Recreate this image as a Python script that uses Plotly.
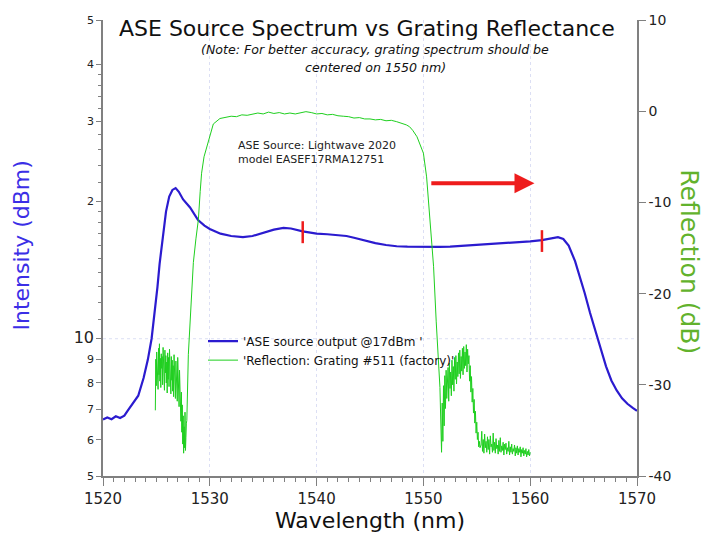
import math
import numpy as np
import plotly.graph_objects as go

# ---------------- data ----------------
ase_wl = [1520.0, 1520.4, 1520.8, 1521.2, 1521.6, 1522.0, 1522.3, 1522.8, 1523.3, 1523.8,
          1524.2, 1524.55, 1524.8, 1525.1, 1525.3, 1525.6, 1525.9, 1526.2, 1526.5, 1526.8,
          1527.1, 1527.5, 1528.15, 1528.9, 1529.5, 1530.0, 1531.0, 1532.0, 1533.1, 1534.0,
          1535.0, 1536.0, 1536.9, 1537.6, 1538.7, 1540.0, 1541.0, 1542.0, 1542.8, 1543.5,
          1544.5, 1545.5, 1546.5, 1547.5, 1548.5, 1549.5, 1550.6, 1551.5, 1552.5, 1553.5,
          1554.5, 1555.5, 1556.9, 1558.0, 1559.0, 1560.0, 1561.1, 1562.0, 1562.6, 1563.1,
          1563.6, 1564.2, 1564.6, 1565.1, 1565.6, 1566.1, 1566.6, 1567.1, 1567.6, 1568.1,
          1568.6, 1569.1, 1569.6, 1570.0]
ase_val = [6.65, 6.72, 6.66, 6.76, 6.70, 6.78, 6.95, 7.2, 7.5, 8.2,
           9.0, 10.0, 11.2, 13.0, 14.6, 16.9, 19.0, 20.5, 21.2, 21.4,
           21.0, 20.2, 19.4, 18.2, 17.7, 17.4, 17.0, 16.8, 16.7, 16.8,
           17.05, 17.35, 17.5, 17.45, 17.2, 17.0, 16.95, 16.85, 16.8, 16.65,
           16.4, 16.2, 16.05, 15.95, 15.92, 15.9, 15.88, 15.9, 15.92, 15.97,
           16.02, 16.08, 16.15, 16.22, 16.28, 16.35, 16.45, 16.6, 16.7, 16.55,
           16.0, 14.8, 13.8, 12.6, 11.4, 10.4, 9.5, 8.7, 8.1, 7.7,
           7.4, 7.2, 7.05, 6.95]

# grating reflection: left side-lobe (sampled uniformly between start and end)
refl_lobe1_start, refl_lobe1_end = 1524.9, 1527.85
refl_lobe1 = [-32.8, -27.2, -30.1, -26.4, -29.0, -27.8, -30.5, -26.0, -28.9, -25.5,
              -29.6, -27.1, -30.3, -26.6, -28.2, -26.9, -30.0, -25.9, -29.1, -27.4,
              -30.6, -26.2, -28.7, -26.8, -29.8, -27.5, -30.9, -26.5, -29.4, -27.0,
              -30.2, -26.1, -28.6, -27.7, -31.0, -26.9, -29.5, -27.3, -30.7, -27.9,
              -31.3, -26.7, -29.9, -28.1, -31.5, -27.4, -30.4, -28.6, -31.8, -27.0,
              -30.8, -29.2, -32.4, -28.4, -31.9, -30.5, -34.0, -30.8, -35.2, -32.2,
              -36.5, -33.4, -37.5, -34.6, -36.9, -33.0, -37.2, -35.8, -34.2, -33.9]
# main reflection band
refl_main_wl = [1527.99, 1528.15, 1528.3, 1528.46, 1528.7, 1528.93, 1529.1, 1529.23, 1529.46, 1529.86,
                1530.33, 1530.95, 1531.5, 1532.0, 1532.5, 1533.0, 1533.5, 1534.0, 1534.5, 1535.0,
                1535.5, 1536.0, 1536.5, 1537.0, 1537.5, 1538.0, 1538.5, 1539.0, 1539.5, 1540.0,
                1540.5, 1541.0, 1541.5, 1542.0, 1542.5, 1543.0, 1543.5, 1544.0, 1544.5, 1545.0,
                1545.5, 1546.0, 1546.5, 1547.0, 1547.5, 1548.0, 1548.4, 1548.7, 1549.0, 1549.4,
                1549.7, 1550.0, 1550.3, 1550.46, 1550.6, 1550.8, 1550.95, 1551.2, 1551.55]
refl_main = [-26.7, -23.1, -19.5, -16.6, -14.0, -11.9, -8.8, -6.8, -5.0, -3.3,
             -1.4, -0.8, -0.7, -0.55, -0.6, -0.4, -0.45, -0.3, -0.2, -0.3,
             -0.1, -0.25, -0.15, -0.3, -0.2, -0.3, -0.15, -0.05, -0.15, -0.3,
             -0.25, -0.4, -0.35, -0.5, -0.55, -0.6, -0.75, -0.7, -0.85, -0.85,
             -0.95, -0.9, -1.05, -1.0, -1.15, -1.3, -1.5, -1.7, -2.1, -2.8,
             -3.6, -4.6, -7.2, -9.7, -11.0, -14.0, -17.0, -23.1, -30.3]
# right side-lobe
refl_lobe2_start, refl_lobe2_end = 1551.7, 1555.3
refl_lobe2 = [-37.4, -32.0, -36.2, -30.1, -34.5, -29.0, -32.6, -28.4, -31.5, -29.6,
              -28.1, -31.8, -27.6, -30.4, -28.6, -31.2, -27.3, -30.0, -28.0, -30.7,
              -27.0, -29.4, -26.8, -29.9, -27.5, -29.1, -26.5, -28.8, -26.2, -29.3,
              -26.9, -28.5, -26.0, -28.9, -25.8, -28.2, -26.4, -27.9, -25.6, -28.6,
              -26.1, -27.7, -26.8, -29.6, -27.9, -30.8, -29.1, -31.9, -30.4, -33.1,
              -31.6, -34.2, -32.9, -35.3, -34.1, -36.0, -35.2, -36.8, -36.2, -36.9]
# noise floor tail
refl_tail_start, refl_tail_end = 1555.4, 1560.0
refl_tail = [-36.6, -35.1, -37.3, -36.0, -37.5, -35.4, -36.9, -36.2, -37.4, -35.7,
             -37.1, -36.0, -37.6, -35.6, -36.8, -36.5, -37.4, -35.3, -37.2, -36.3,
             -37.5, -35.9, -37.0, -36.6, -37.6, -36.1, -37.3, -35.8, -37.4, -36.7,
             -37.2, -36.3, -37.7, -36.5, -37.1, -36.4, -37.6, -36.9, -37.3, -36.2,
             -37.7, -36.8, -37.4, -36.5, -37.6, -37.0, -37.3, -36.6, -37.8, -36.9,
             -37.5, -36.7, -37.7, -37.0, -37.4, -36.8, -37.9, -37.1, -37.5, -36.9,
             -37.8, -37.2, -37.6, -37.0, -37.9, -37.3, -37.7, -37.1, -37.8, -37.4]

# bandwidth marks on the ASE curve
mark_wl = [1538.7, 1561.1]
mark_lo = [16.2, 15.5]
mark_hi = [18.1, 17.3]

# arrow (in wavelength / reflection units)
arrow_from, arrow_to, arrow_level = 1550.6, 1560.4, -7.9

x_major = [1520, 1530, 1540, 1550, 1560, 1570]
y_major = [5, 6, 7, 8, 9, 10, 20, 30, 40, 50]
y_major_text = ["5", "6", "7", "8", "9", "<span style='font-size:16px'>10</span>", "2", "3", "4", "5"]
y_minor = [11, 12, 13, 14, 15, 16, 17, 18, 19, 22, 24, 26, 28, 32, 34, 36, 38]
y2_major = [-40, -30, -20, -10, 0, 10]
y2_text = ["-40", "-30", "-20", "-10", "0", "10"]

# ---------------- build ----------------
refl_wl = (list(np.linspace(refl_lobe1_start, refl_lobe1_end, len(refl_lobe1))) + refl_main_wl
           + list(np.linspace(refl_lobe2_start, refl_lobe2_end, len(refl_lobe2)))
           + list(np.linspace(refl_tail_start, refl_tail_end, len(refl_tail))))
refl_val = refl_lobe1 + refl_main + refl_lobe2 + refl_tail

BLUE = "#2b1bcf"
GREEN = "#1fcf1f"
AXIS = "#808080"
GRID = "#dcdff4"
FONT = "DejaVu Sans"

fig = go.Figure()
fig.add_trace(go.Scatter(x=ase_wl, y=ase_val, mode="lines", name="'ASE source output @17dBm '",
                         line=dict(color=BLUE, width=2.2), yaxis="y", hoverinfo="skip"))
fig.add_trace(go.Scatter(x=refl_wl, y=refl_val, mode="lines", name="'Reflection: Grating #511 (factory)'",
                         line=dict(color=GREEN, width=1), yaxis="y2", hoverinfo="skip"))
for w, lo, hi in zip(mark_wl, mark_lo, mark_hi):
    fig.add_trace(go.Scatter(x=[w, w], y=[lo, hi], mode="lines", showlegend=False,
                             line=dict(color="#ee1c1c", width=2.5), yaxis="y", hoverinfo="skip"))

W, H = 708, 542
L, R, T, B = 103, 71, 15, 66
pw, ph = W - L - R, H - T - B


def px(xp):
    return (xp - L) / pw


def py(yp):
    return (H - B - yp) / ph


fig.update_layout(
    width=W, height=H,
    margin=dict(l=L, r=R, t=T, b=B, pad=0),
    paper_bgcolor="white", plot_bgcolor="white",
    font=dict(family=FONT, color="#222", size=12),
    hovermode=False,
    showlegend=True,
    legend=dict(x=px(203), y=py(325), xanchor="left", yanchor="top",
                bgcolor="rgba(0,0,0,0)", font=dict(size=12, color="#111"),
                itemwidth=30, tracegroupgap=0),
    xaxis=dict(range=[1520, 1570], tickmode="array", tickvals=x_major,
               ticks="outside", ticklen=8, tickcolor=AXIS, tickwidth=1,
               showline=True, linecolor=AXIS, linewidth=1.5,
               showgrid=True, gridcolor=GRID, griddash="dot", gridwidth=1,
               zeroline=False, tickfont=dict(size=15, color="#222"),
               minor=dict(dtick=1, ticks="outside", ticklen=4, tickcolor=AXIS, showgrid=False)),
    yaxis=dict(type="log", range=[math.log10(5), math.log10(50)], tickmode="array",
               tickvals=y_major, ticktext=y_major_text,
               ticks="outside", ticklen=5, tickcolor=AXIS,
               showline=True, linecolor=AXIS, linewidth=1.5, showgrid=False, zeroline=False,
               tickfont=dict(size=11, color="#222"),
               minor=dict(tickmode="array", tickvals=y_minor, ticks="outside", ticklen=3,
                          tickcolor=AXIS, showgrid=False)),
    yaxis2=dict(overlaying="y", side="right", range=[-40, 10], tickmode="array",
                tickvals=y2_major, ticktext=y2_text,
                ticks="outside", ticklen=7, tickcolor=AXIS,
                showline=True, linecolor=AXIS, linewidth=1.5, showgrid=False, zeroline=False,
                tickfont=dict(size=14, color="#222")),
)

# dotted grid line at the decade (10) on the intensity axis
grid10 = math.log10(10 / 5) / math.log10(50 / 5)
fig.add_shape(type="line", xref="paper", yref="paper", x0=0, x1=1, y0=grid10, y1=grid10,
              line=dict(color=GRID, width=1, dash="dot"), layer="below")

annotations = [
    dict(text="ASE Source Spectrum vs Grating Reflectance", x=px(367), y=py(24),
         font=dict(size=22, color="#111")),
    dict(text="<i>(Note: For better accuracy, grating spectrum should be</i>", x=px(375), y=py(45),
         font=dict(size=12.6, color="#111")),
    dict(text="<i>centered on 1550 nm)</i>", x=px(375), y=py(63), font=dict(size=12.6, color="#111")),
    dict(text="ASE Source: Lightwave 2020<br>model EASEF17RMA12751", x=px(236), y=py(149),
         xanchor="left", align="left", font=dict(size=11, color="#222")),
    dict(text="Wavelength (nm)", x=0.5, y=py(521), font=dict(size=22, color="#111")),
    dict(text="Intensity (dBm)", x=px(22), y=py(243), textangle=-90, font=dict(size=22, color="#3b2ee6")),
    dict(text="Reflection (dB)", x=px(690), y=py(259), textangle=90, font=dict(size=25, color="#62b22c")),
]
for a in annotations:
    base = dict(xref="paper", yref="paper", showarrow=False, xanchor="center", yanchor="middle")
    base.update(a)
    fig.add_annotation(**base)

fig.add_annotation(x=arrow_to, y=arrow_level, ax=arrow_from, ay=arrow_level,
                   xref="x", yref="y2", axref="x", ayref="y2", text="", showarrow=True,
                   arrowhead=2, arrowsize=1, arrowwidth=4, arrowcolor="#ee1c1c")

fig.write_html("out.html")
